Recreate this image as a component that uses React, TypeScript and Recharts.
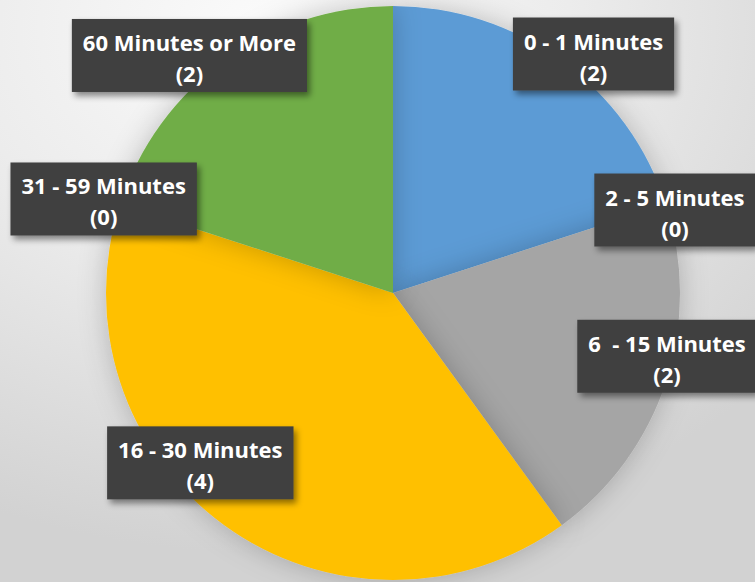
import React from 'react';
import { PieChart, Pie, Cell } from 'recharts';

const categories = [
  '0 - 1 Minutes',
  '2 - 5 Minutes',
  '6  - 15 Minutes',
  '16 - 30 Minutes',
  '31 - 59 Minutes',
  '60 Minutes or More',
];
const counts = [2, 0, 2, 4, 0, 2];
const colors = ['#5b9bd5', '#5b9bd5', '#a5a5a5', '#ffc000', '#70ad47', '#70ad47'];

// label placement tweaks (Excel "best fit" style), relative to each slice's mid angle
const labelRadius = [1.087, 1.024, 0.98, 0.895, 1.06, 1.09];
const labelAngleShift = [-4, -1.6, 5, -12.6, 0, 4.6];

const data = categories.map((name, i) => ({ name, value: counts[i] }));

const FONT = '"Open Sans", sans-serif';
const FONT_SIZE = 22;
const RAD = Math.PI / 180;

let ctx: CanvasRenderingContext2D | null = null;
function textWidth(s: string) {
  if (!ctx) ctx = document.createElement('canvas').getContext('2d');
  if (!ctx) return s.length * FONT_SIZE * 0.55;
  ctx.font = `bold ${FONT_SIZE}px ${FONT}`;
  return ctx.measureText(s).width;
}

const renderLabel = (props: any) => {
  const { cx, cy, midAngle, outerRadius, index, name, value } = props;
  const ang = (midAngle + labelAngleShift[index]) * RAD;
  const r = outerRadius * labelRadius[index];
  const x = cx + r * Math.cos(-ang);
  const y = cy + r * Math.sin(-ang);
  const w = Math.max(textWidth(name), textWidth(`(${value})`)) + 22;
  const h = 73;
  return (
    <g key={`lbl-${index}`}>
      <rect
        x={x - w / 2}
        y={y - h / 2}
        width={w}
        height={h}
        fill="#404040"
        filter="url(#boxShadow)"
      />
      <text
        x={x}
        y={y - h / 2 + 32}
        textAnchor="middle"
        fill="#ffffff"
        fontFamily={FONT}
        fontWeight="bold"
        fontSize={FONT_SIZE}
        style={{ whiteSpace: 'pre' }}
      >
        {name}
      </text>
      <text
        x={x}
        y={y - h / 2 + 63}
        textAnchor="middle"
        fill="#ffffff"
        fontFamily={FONT}
        fontWeight="bold"
        fontSize={FONT_SIZE}
      >
        {`(${value})`}
      </text>
    </g>
  );
};

export default function App() {
  return (
    <div
      style={{
        position: 'absolute',
        left: 0,
        top: 0,
        width: 755,
        height: 582,
        overflow: 'hidden',
        background: 'radial-gradient(ellipse 90% 90% at 35% 5%, #fbfbfb 0%, #ececec 45%, #d2d2d2 100%)',
      }}
    >
      <PieChart width={755} height={582} margin={{ top: 0, right: 0, bottom: 0, left: 0 }}>
        <defs>
          <filter id="pieShadow" x="-20%" y="-20%" width="140%" height="140%">
            <feDropShadow dx="0" dy="0" stdDeviation="14" floodColor="#000" floodOpacity="0.22" />
          </filter>
          <filter id="boxShadow" x="-20%" y="-30%" width="150%" height="170%">
            <feDropShadow dx="3" dy="4" stdDeviation="3" floodColor="#000" floodOpacity="0.45" />
          </filter>
        </defs>
        <Pie
          data={data}
          dataKey="value"
          nameKey="name"
          cx={393}
          cy={293}
          outerRadius={287}
          startAngle={90}
          endAngle={-270}
          stroke="none"
          label={renderLabel}
          labelLine={false}
          isAnimationActive={false}
          style={{ filter: 'url(#pieShadow)' }}
        >
          {data.map((d, i) => (
            <Cell key={d.name} fill={colors[i]} />
          ))}
        </Pie>
      </PieChart>
    </div>
  );
}
